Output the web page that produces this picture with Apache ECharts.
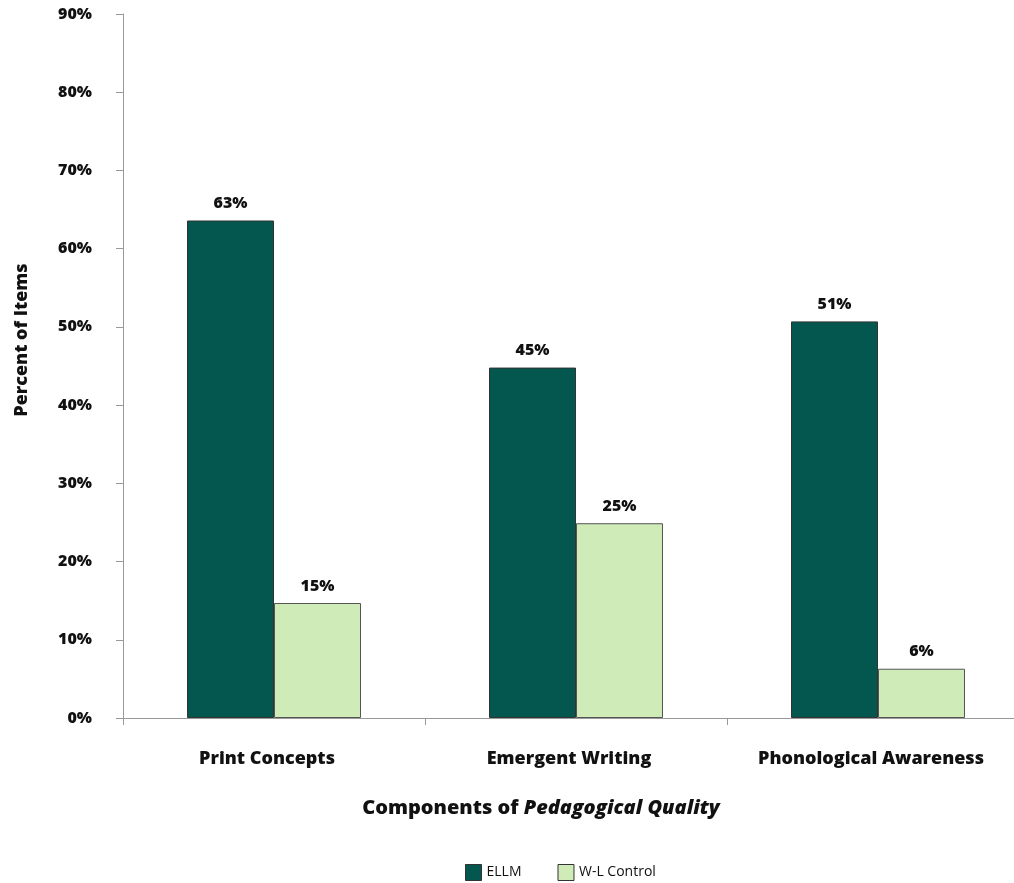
<!DOCTYPE html>
<html>
<head>
<meta charset="utf-8">
<script src="https://cdn.jsdelivr.net/npm/echarts@6/dist/echarts.min.js"></script>
<style>html,body{margin:0;padding:0;background:#fff;}#c{width:1014px;height:883px;}</style>
</head>
<body>
<div id="c"></div>
<script>
const categories = ['Print Concepts', 'Emergent Writing', 'Phonological Awareness'];
const ellmValues = [63.6, 44.8, 50.7];
const controlValues = [14.7, 24.9, 6.3];
const ellmLabels = ['63%', '45%', '51%'];
const controlLabels = ['15%', '25%', '6%'];
const seriesNames = ['ELLM', 'W-L Control'];
const yTicks = [0, 10, 20, 30, 40, 50, 60, 70, 80, 90];

const FONT = 'Open Sans';
const W = 800;
const TXT = '#111';
const chart = echarts.init(document.getElementById('c'), null, {renderer: 'canvas'});
chart.setOption({
  backgroundColor: '#fff',
  animation: false,
  grid: {left: 123, width: 906, top: 14, bottom: 165, containLabel: false, outerBoundsMode: 'none'},
  legend: {
    bottom: 2, left: 465, padding: 0,
    itemWidth: 16, itemHeight: 16, itemGap: 36,
    icon: 'rect',
    textStyle: {fontFamily: FONT, fontSize: 14, color: TXT},
    data: seriesNames.map(n => ({name: n, itemStyle: {borderColor: '#333', borderWidth: 1}}))
  },
  xAxis: {
    type: 'category',
    data: categories,
    axisLine: {lineStyle: {color: '#999', width: 1}},
    axisTick: {show: true, length: 7, lineStyle: {color: '#999'}},
    axisLabel: {margin: 32, fontFamily: FONT, fontWeight: W, fontSize: 18, color: TXT, padding: [0, 14, 0, 0]},
    name: '{a|Components of }{b|Pedagogical Quality}',
    nameLocation: 'middle',
    nameGap: 80,
    nameTextStyle: {
      padding: [0, 70, 0, 0],
      rich: {
        a: {fontFamily: FONT, fontWeight: W, fontSize: 20, color: TXT},
        b: {fontFamily: FONT, fontWeight: W, fontStyle: 'italic', fontSize: 20, color: TXT}
      }
    }
  },
  yAxis: {
    type: 'value',
    min: 0, max: 90, interval: 10,
    axisLine: {show: true, lineStyle: {color: '#999', width: 1}},
    axisTick: {show: true, length: 7, lineStyle: {color: '#999'}},
    splitLine: {show: false},
    axisLabel: {margin: 31, fontFamily: FONT, fontWeight: W, fontSize: 16, color: TXT,
      formatter: v => yTicks.includes(v) ? v + '%' : ''},
    name: 'Percent of Items',
    nameLocation: 'middle',
    nameGap: 92,
    nameTextStyle: {fontFamily: FONT, fontWeight: W, fontSize: 18, color: TXT, padding: [0, 0, 0, 52]}
  },
  series: [
    {
      name: seriesNames[0], type: 'bar', data: ellmValues,
      barWidth: 87, barGap: '0%',
      itemStyle: {color: '#03574F', borderColor: '#333', borderWidth: 1},
      label: {show: true, position: 'top', distance: 9, fontFamily: FONT, fontWeight: W, fontSize: 16, color: TXT,
        formatter: p => ellmLabels[p.dataIndex]}
    },
    {
      name: seriesNames[1], type: 'bar', data: controlValues,
      barWidth: 87, barGap: '0%',
      itemStyle: {color: '#CEEBB8', borderColor: '#555', borderWidth: 1},
      label: {show: true, position: 'top', distance: 9, fontFamily: FONT, fontWeight: W, fontSize: 16, color: TXT,
        formatter: p => controlLabels[p.dataIndex]}
    }
  ]
});
</script>
</body>
</html>
